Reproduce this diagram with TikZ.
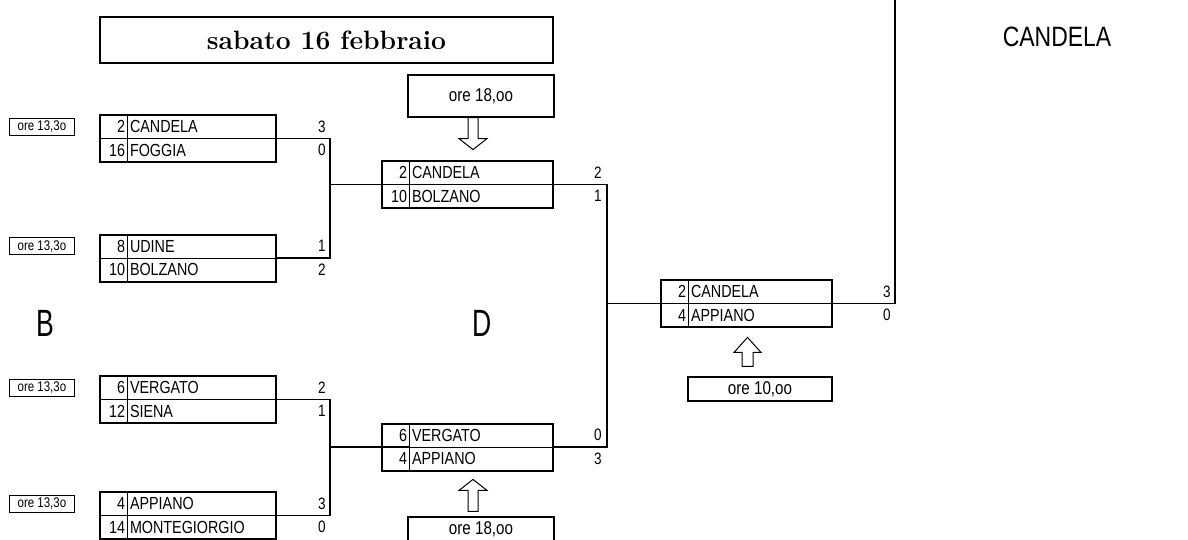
\documentclass[tikz,border=0pt]{standalone}
\usepackage{fontspec}
\usetikzlibrary{positioning}
\newfontfamily\tabsans{Liberation Sans}[FakeStretch=0.82]
\newfontfamily\groupsans{Liberation Sans}[FakeStretch=0.7]

\begin{document}
\begin{tikzpicture}[x=1pt, y=-1pt,
  seedcell/.style={draw, line width=1pt, outer sep=0pt, inner xsep=2pt, inner ysep=0pt,
    minimum height=23.5pt, text width=23pt, align=right, font=\tabsans\fontsize{17.5}{17.5}\selectfont},
  teamcell/.style={draw, line width=1pt, outer sep=0pt, inner xsep=3pt, inner ysep=0pt,
    minimum height=23.5pt, text width=#1, align=left, font=\tabsans\fontsize{17.5}{17.5}\selectfont},
  frame/.style={line width=2pt},
  link/.style={line width=1.2pt},
  score/.style={inner sep=0pt, font=\tabsans\fontsize{16.5}{16.5}\selectfont},
  orabox/.style={draw, line width=1.2pt, minimum width=65pt, minimum height=17pt, inner sep=0pt,
    font=\tabsans\fontsize{14}{14}\selectfont},
  orabig/.style={draw, line width=1.2pt, inner sep=0pt, font=\tabsans\fontsize{18.5}{18.5}\selectfont},
  hollow/.style={line width=1pt, line join=miter}]
\useasboundingbox (0,0) rectangle (1188,539);

% Title
\node[draw, line width=2.5pt, minimum width=453pt, minimum height=46pt,
  font=\bfseries\fontsize{26.5}{26.5}\selectfont] (titolo) at (326.5,40) {sabato 16 febbraio};

% Quarter finals
\node[seedcell, anchor=north west] (q1sa) at (100,115) {2};
\node[teamcell=143pt, right=0pt of q1sa] (q1ta) {CANDELA};
\node[seedcell, below=0pt of q1sa] (q1sb) {16};
\node[teamcell=143pt, right=0pt of q1sb] (q1tb) {FOGGIA};
\draw[frame] (q1sa.north west) rectangle (q1tb.south east);
\node[orabox, left=25pt of q1sa] (h1) {ore 13,3o};
\node[score, right=42pt of q1ta] (q1pa) {3};
\node[score, right=42pt of q1tb] (q1pb) {0};

\node[seedcell, anchor=north west] (q2sa) at (100,234.5) {8};
\node[teamcell=143pt, right=0pt of q2sa] (q2ta) {UDINE};
\node[seedcell, below=0pt of q2sa] (q2sb) {10};
\node[teamcell=143pt, right=0pt of q2sb] (q2tb) {BOLZANO};
\draw[frame] (q2sa.north west) rectangle (q2tb.south east);
\node[orabox, left=25pt of q2sa] (h2) {ore 13,3o};
\node[score, right=42pt of q2ta] (q2pa) {1};
\node[score, right=42pt of q2tb] (q2pb) {2};

\node[seedcell, anchor=north west] (q3sa) at (100,376) {6};
\node[teamcell=143pt, right=0pt of q3sa] (q3ta) {VERGATO};
\node[seedcell, below=0pt of q3sa] (q3sb) {12};
\node[teamcell=143pt, right=0pt of q3sb] (q3tb) {SIENA};
\draw[frame] (q3sa.north west) rectangle (q3tb.south east);
\node[orabox, left=25pt of q3sa] (h3) {ore 13,3o};
\node[score, right=42pt of q3ta] (q3pa) {2};
\node[score, right=42pt of q3tb] (q3pb) {1};

\node[seedcell, anchor=north west] (q4sa) at (100,492) {4};
\node[teamcell=143pt, right=0pt of q4sa] (q4ta) {APPIANO};
\node[seedcell, below=0pt of q4sa] (q4sb) {14};
\node[teamcell=143pt, right=0pt of q4sb] (q4tb) {MONTEGIORGIO};
\draw[frame] (q4sa.north west) rectangle (q4tb.south east);
\node[orabox, left=25pt of q4sa] (h4) {ore 13,3o};
\node[score, right=42pt of q4ta] (q4pa) {3};
\node[score, right=42pt of q4tb] (q4pb) {0};

% Semi finals
\node[seedcell, anchor=north west] (s1sa) at (382,161) {2};
\node[teamcell=138pt, right=0pt of s1sa] (s1ta) {CANDELA};
\node[seedcell, below=0pt of s1sa] (s1sb) {10};
\node[teamcell=138pt, right=0pt of s1sb] (s1tb) {BOLZANO};
\draw[frame] (s1sa.north west) rectangle (s1tb.south east);
\node[score, right=41pt of s1ta] (s1pa) {2};
\node[score, right=41pt of s1tb] (s1pb) {1};

\node[seedcell, anchor=north west] (s2sa) at (382,423.5) {6};
\node[teamcell=138pt, right=0pt of s2sa] (s2ta) {VERGATO};
\node[seedcell, below=0pt of s2sa] (s2sb) {4};
\node[teamcell=138pt, right=0pt of s2sb] (s2tb) {APPIANO};
\draw[frame] (s2sa.north west) rectangle (s2tb.south east);
\node[score, right=41pt of s2ta] (s2pa) {0};
\node[score, right=41pt of s2tb] (s2pb) {3};

\node[orabig, minimum width=146pt, minimum height=42pt] (h5) at (481,96) {ore 18,oo};
\node[orabig, minimum width=146pt, minimum height=24pt] (h6) at (481,529) {ore 18,oo};

% Final
\node[seedcell, anchor=north west] (fsa) at (661,280) {2};
\node[teamcell=138pt, right=0pt of fsa] (fta) {CANDELA};
\node[seedcell, below=0pt of fsa] (fsb) {4};
\node[teamcell=138pt, right=0pt of fsb] (ftb) {APPIANO};
\draw[frame] (fsa.north west) rectangle (ftb.south east);
\node[score, right=51pt of fta] (fpa) {3};
\node[score, right=51pt of ftb] (fpb) {0};
\node[orabig, minimum width=144pt, minimum height=24pt] (h7) at (760,389) {ore 10,oo};

% Winner and groups
\node[font=\tabsans\fontsize{28}{28}\selectfont] (vincitore) at (1057,37) {CANDELA};
\node[font=\groupsans\fontsize{38}{38}\selectfont] (gruppoB) at (45,323) {B};
\node[font=\groupsans\fontsize{38}{38}\selectfont] (gruppoD) at (482,323) {D};

% Bracket lines
\coordinate (j1) at (330,184.5);
\coordinate (j2) at (330,447);
\coordinate (j3) at (607,303.5);
\coordinate (jtop) at (895,0);
\draw[link] (q1ta.south east) -| (j1) |- (q2ta.south east);
\draw[link] (j1) -- (s1ta.south west);
\draw[link] (q3ta.south east) -| (j2) |- (q4ta.south east);
\draw[link] (j2) -- (s2ta.south west);
\draw[link] (s1ta.south east) -| (j3) |- (s2ta.south east);
\draw[link] (j3) -- (fta.south west);
\draw[link, line width=1.4pt] (fta.south east) -| (jtop);

% Hollow arrows
\draw[hollow] ([xshift=-13pt]h5.south) -- ++(0,21) -- ++(-9,0) -- ++(14,11) -- ++(14,-11) -- ++(-9,0) -- ++(0,-21) -- cycle;
\draw[hollow] ([xshift=-13pt, yshift=5pt]h6.north) -- ++(0,-21) -- ++(-9,0) -- ++(14,-11) -- ++(14,11) -- ++(-9,0) -- ++(0,21) -- cycle;
\draw[hollow] ([xshift=-18pt, yshift=10pt]h7.north) -- ++(0,-14) -- ++(-8,0) -- ++(13.5,-15) -- ++(13.5,15) -- ++(-8,0) -- ++(0,14) -- cycle;
\end{tikzpicture}
\end{document}
